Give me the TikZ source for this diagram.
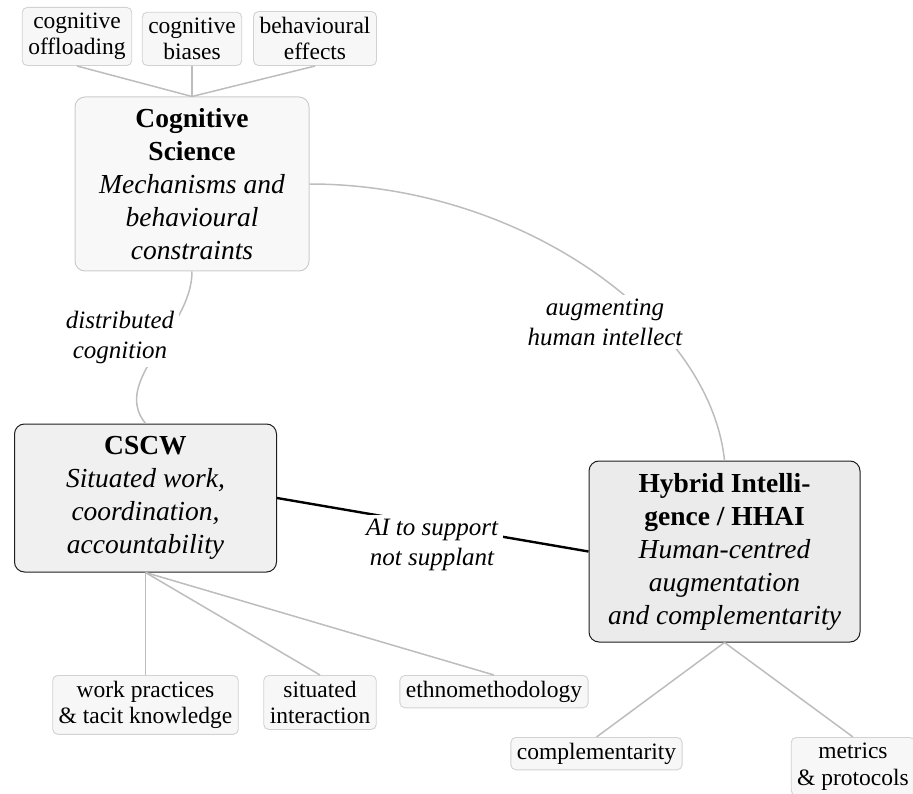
\documentclass[tikz,border=0pt]{standalone}
\IfFileExists{t1ppl.fd}{%
  \IfFileExists{pplr8t.tfm}{%
    \usepackage[T1]{fontenc}\renewcommand\rmdefault{ppl}%
  }{\usepackage{fontspec}\setmainfont{Liberation Serif}}%
}{\usepackage{fontspec}\setmainfont{Liberation Serif}}
\definecolor{leaffill}{HTML}{F7F7F7}
\definecolor{leafborder}{HTML}{D2D2D2}
\definecolor{cogfill}{HTML}{F8F8F8}
\definecolor{cogborder}{HTML}{CCCCCC}
\definecolor{cscwfill}{HTML}{F0F0F0}
\definecolor{hybfill}{HTML}{EBEBEB}
\definecolor{darkborder}{HTML}{1E1E1E}
\definecolor{edgegray}{HTML}{BDBDBD}
\begin{document}
\begin{tikzpicture}[x=1pt,y=-1pt,
  leaf/.style={draw=leafborder, fill=leaffill, rounded corners=5pt, line width=0.9pt,
    inner xsep=6pt, inner ysep=5.5pt, align=center, font=\fontsize{23.5}{26.5}\selectfont},
  mainbox/.style={rounded corners=10pt, align=center, inner sep=4pt,
    font=\fontsize{27.5}{33}\selectfont},
  softedge/.style={draw=edgegray, line width=1.5pt},
  hardedge/.style={draw=black, line width=2.4pt},
  lab/.style={fill=white, inner xsep=5pt, inner ysep=4pt, align=center,
    font=\fontsize{25}{30}\selectfont\itshape}
]
\useasboundingbox (0,0) rectangle (913,794);

% main nodes
\node[mainbox, draw=cogborder, fill=cogfill, line width=1pt,
  minimum width=234pt, minimum height=174pt] (cog) at (192,184)
  {\textbf{Cognitive}\\\textbf{Science}\\\textit{Mechanisms and}\\\textit{behavioural}\\\textit{constraints}};
\node[mainbox, draw=darkborder, fill=cscwfill, line width=1pt,
  minimum width=262pt, minimum height=148pt] (cscw) at (145.5,498)
  {\textbf{CSCW}\\\textit{Situated work,}\\\textit{coordination,}\\\textit{accountability}};
\node[mainbox, draw=darkborder, fill=hybfill, line width=1pt,
  minimum width=271pt, minimum height=181pt] (hyb) at (724.5,551.5)
  {\textbf{Hybrid Intelli-}\\\textbf{gence / HHAI}\\\textit{Human-centred}\\\textit{augmentation}\\\textit{and complementarity}};

% leaves, top
\node[leaf, anchor=south] (off) at (77,66) {cognitive\\offloading};
\node[leaf, anchor=south] (bias) at (192,66) {cognitive\\biases};
\node[leaf, anchor=south] (beh) at (315,66) {behavioural\\effects};

% leaves, bottom left
\node[leaf, anchor=north] (work) at (145.5,675) {work practices\\\&\ tacit knowledge};
\node[leaf, anchor=north] (sit) at (320,675) {situated\\interaction};
\node[leaf, anchor=north] (ethno) at (494,675) {ethnomethodology};

% leaves, bottom right
\node[leaf, anchor=north] (comp) at (596.5,737) {complementarity};
\node[leaf, anchor=north] (met) at (853,737) {metrics\\\&\ protocols};

% connectors
\draw[softedge] (off.south) -- (cog.north);
\draw[softedge] (bias.south) -- (cog.north);
\draw[softedge] (beh.south) -- (cog.north);

\draw[softedge] (cscw.south) -- (work.north);
\draw[softedge] (cscw.south) -- (sit.north);
\draw[softedge] (cscw.south) -- (ethno.north);

\draw[softedge] (hyb.south) -- (comp.north);
\draw[softedge] (hyb.south) -- (met.north);

\draw[softedge] (cog.south) .. controls (192,330) and (110,380) .. (cscw.north);
\draw[softedge] (cog.east) .. controls (520,184) and (710,320) .. (hyb.north);
\draw[hardedge] (cscw.east) -- (hyb.west);

% edge labels
\node[lab] (ldist) at (120,337) {distributed\\cognition};
\node[lab] (laug) at (605,322) {augmenting\\human intellect};
\node[lab] (lai) at (432,545) {AI to support\\not supplant};
\end{tikzpicture}
\end{document}
